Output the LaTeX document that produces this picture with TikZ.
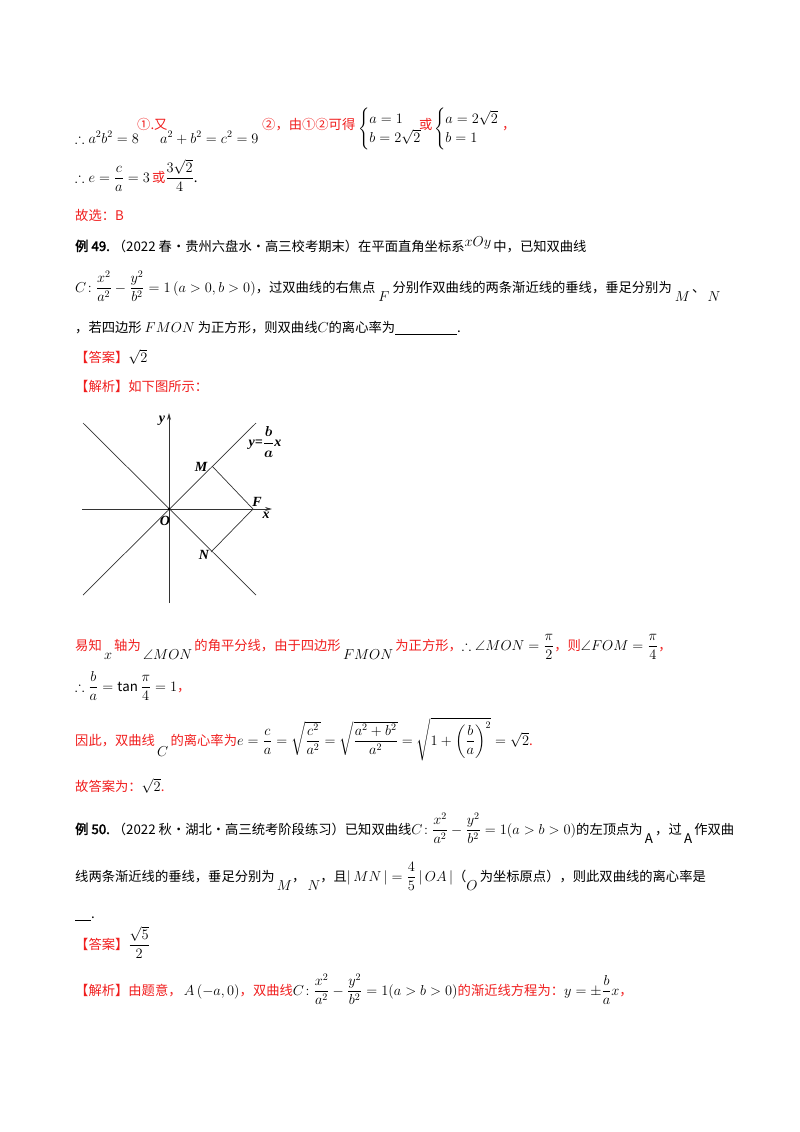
\documentclass[tikz,border=0pt]{standalone}
\usepackage{amsmath,amssymb}
\usepackage{fontspec}
\setmainfont{Noto Sans CJK SC}[Scale=0.95]
\newfontfamily\cjkb{Noto Sans CJK SC}[FakeBold=2.5,Scale=0.95]
\newfontfamily\tnr{Liberation Serif}
\usetikzlibrary{arrows.meta}
\definecolor{rd}{RGB}{240,30,30}
\begin{document}
\begin{tikzpicture}[x=1pt,y=1pt,
  t/.style={anchor=base west,inner sep=0pt,font=\fontsize{14}{16}\selectfont},
  r/.style={t,text=rd},
  ln/.style={line width=0.7pt,black!80},
  lab/.style={inner sep=0pt,font=\fontsize{14}{16}\bfseries\itshape\tnr}]
\useasboundingbox (0,0) rectangle (800,-1132);
% line 1
\node[t] (a1) at (75,-143) {$\therefore a^2b^2=8$};
\node[r] (a2) at (137,-129) {①.又};
\node[t] (a3) at (160,-143) {$a^2+b^2=c^2=9$};
\node[r] (a4) at (262,-129) {②，由①②可得};
\node[t] (a5) at (358,-133) {$\begin{cases}a=1\\ b=2\sqrt2\end{cases}$};
\node[r] (a6) at (419,-129) {或};
\node[t] (a7) at (434,-133) {$\begin{cases}a=2\sqrt2\\ b=1\end{cases}$};
\node[r] (a8) at (502,-129) {，};
% line 2
\node[t] (b1) at (75,-182) {$\therefore e=\dfrac{c}{a}=3$\,\textcolor{rd}{或}$\dfrac{3\sqrt2}{4}$.};
\node[r] (b2) at (75,-220) {故选：B};
% ex 49
\node[t] (c1) at (75,-251) {{\cjkb 例 49.}\ （2022 春·贵州六盘水·高三校考期末）在平面直角坐标系\raisebox{5pt}{$xOy$}\,中，已知双曲线};
\node[t] (c2) at (75,-292) {$C\!:\dfrac{x^2}{a^2}-\dfrac{y^2}{b^2}=1\left(a>0,b>0\right)$，过双曲线的右焦点\ \raisebox{-9pt}{$F$}\ 分别作双曲线的两条渐近线的垂线，垂足分别为\ \raisebox{-9pt}{$M$}\,、\,\raisebox{-9pt}{$N$}};
\node[t] (c3) at (75,-332) {，若四边形 $FMON$ 为正方形，则双曲线$C$的离心率为\underline{\hspace{62pt}}.};
\node[t] (c4) at (75,-362) {\textcolor{rd}{【答案】}$\sqrt2$};
\node[r] (c5) at (75,-391) {【解析】如下图所示：};
% figure
\coordinate (O) at (169,-509);
\coordinate (Xs) at (82,-509);
\coordinate (Xe) at (272,-509);
\coordinate (Ys) at (169,-603);
\coordinate (Ye) at (169,-413);
\coordinate (D1s) at (83,-595); \coordinate (D1e) at (256,-423);
\coordinate (D2s) at (83,-423); \coordinate (D2e) at (256,-595);
\coordinate (M) at (212,-466);
\coordinate (F) at (253,-509);
\coordinate (N) at (211,-552);
\draw[ln,-{Stealth[length=7pt,width=4pt]}] (Xs) -- (Xe);
\draw[ln,-{Stealth[length=7pt,width=4pt]}] (Ys) -- (Ye);
\draw[ln] (D1s) -- (D1e);
\draw[ln] (D2s) -- (D2e);
\draw[ln] (M) -- (F) -- (N);
\fill (O) circle (1.3pt);
\node[lab] (ly) at (162,-421) {y};
\node[lab] (lyb) at (265,-442) {y=$\boldsymbol{\dfrac{b}{a}}$x};
\node[lab] (lM) at (201,-467) {M};
\node[lab] (lF) at (257,-502) {F};
\node[lab] (lx) at (266,-515) {x};
\node[lab] (lO) at (165,-521) {O};
\node[lab] (lN) at (204,-555) {N};
% after figure
\node[r] (d1) at (75,-650) {易知\,\raisebox{-9pt}{\textcolor{black}{$x$}}\,轴为\,\raisebox{-9pt}{\textcolor{black}{$\angle MON$}}\,的角平分线，由于四边形\,\raisebox{-9pt}{\textcolor{black}{$FMON$}}\,为正方形，\textcolor{black}{$\therefore\angle MON=\dfrac{\pi}{2}$}，则\textcolor{black}{$\angle FOM=\dfrac{\pi}{4}$}，};
\node[t] (d2) at (75,-691) {$\therefore\dfrac{b}{a}=\tan\dfrac{\pi}{4}=1$\textcolor{rd}{，}};
\node[r] (d3) at (75,-745) {因此，双曲线\,\raisebox{-11pt}{\textcolor{black}{$C$}}\,的离心率为\textcolor{black}{$e=\dfrac{c}{a}=\sqrt{\dfrac{c^2}{a^2}}=\sqrt{\dfrac{a^2+b^2}{a^2}}=\sqrt{1+\left(\dfrac{b}{a}\right)^2}=\sqrt2$}.};
\node[r] (d4) at (75,-791) {故答案为：\textcolor{black}{$\sqrt2$}.};
% ex 50
\node[t] (e1) at (75,-834) {{\cjkb 例 50.}\ （2022 秋·湖北·高三统考阶段练习）已知双曲线$C\!:\dfrac{x^2}{a^2}-\dfrac{y^2}{b^2}=1(a>b>0)$的左顶点为\,\raisebox{-9pt}{A}\,，过\,\raisebox{-9pt}{A}\,作双曲};
\node[t] (e2) at (75,-881) {线两条渐近线的垂线，垂足分别为\,\raisebox{-9pt}{$M$}，\,\raisebox{-9pt}{$N$}，且$|\,MN\,|=\dfrac45\,|\,OA\,|$（\raisebox{-9pt}{$O$}\,为坐标原点），则此双曲线的离心率是};
\node[t] (e3) at (75,-918) {\underline{\hspace{16pt}}.};
\node[t] (e4) at (75,-949) {\textcolor{rd}{【答案】}$\dfrac{\sqrt5}{2}$};
\node[r] (e5) at (75,-995) {【解析】由题意，\,\textcolor{black}{$A\left(-a,0\right)$}，双曲线\textcolor{black}{$C\!:\dfrac{x^2}{a^2}-\dfrac{y^2}{b^2}=1(a>b>0)$}的渐近线方程为：\textcolor{black}{$y=\pm\dfrac{b}{a}x$}，};
\end{tikzpicture}
\end{document}
